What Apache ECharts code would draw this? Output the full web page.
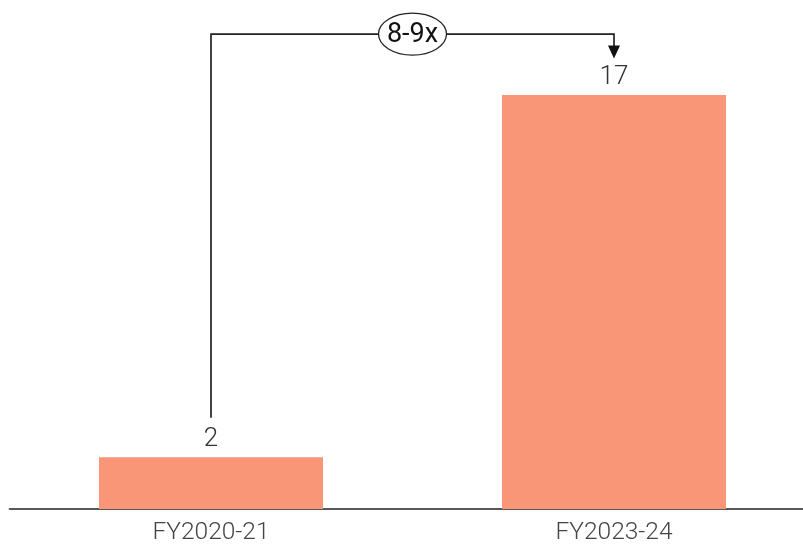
<!DOCTYPE html>
<html>
<head>
<meta charset="utf-8">
<script src="https://cdn.jsdelivr.net/npm/echarts@6/dist/echarts.min.js"></script>
<style>
html,body{margin:0;padding:0;background:#fff;}
#chart{width:803px;height:545px;}
</style>
</head>
<body>
<div id="chart"></div>
<script>
// Data
const categories = ["FY2020-21", "FY2023-24"];
const values = [2.12, 17];
const valueLabels = ["2", "17"];
const growthLabel = "8-9x";
// annotation anchor values (in y-axis units)
const bracketValue = 19.5;
const startValue = 3.75;
const arrowTipValue = 18.5;

const chart = echarts.init(document.getElementById('chart'), null, {renderer: 'canvas'});
const FONT = 'Roboto';
chart.setOption({
  animation: false,
  grid: {left: 9.5, top: 95, width: 806, height: 414, containLabel: false, outerBoundsMode: 'none'},
  xAxis: {
    type: 'category',
    data: categories,
    axisLine: {show: true, lineStyle: {color: '#222', width: 1.6}},
    axisTick: {show: false},
    axisLabel: {margin: 11, color: '#444', fontFamily: FONT, fontWeight: 300, fontSize: 24.5}
  },
  yAxis: {
    type: 'value', min: 0, max: 17, show: false,
    splitLine: {show: false}
  },
  series: [{
    type: 'bar',
    data: values,
    barWidth: 224,
    itemStyle: {color: '#F89677'},
    label: {
      show: true, position: 'top', distance: 5,
      color: '#333', fontFamily: FONT, fontWeight: 300, fontSize: 26,
      formatter: p => valueLabels[p.dataIndex]
    }
  }]
});

function px(cat, val) {
  return chart.convertToPixel({gridIndex: 0}, [cat, val]);
}
const p0 = px(categories[0], startValue);
const pTop0 = px(categories[0], bracketValue);
const pTop1 = px(categories[1], bracketValue);
const pTip = px(categories[1], arrowTipValue);
const midX = (pTop0[0] + pTop1[0]) / 2;
const topY = pTop0[1];

chart.setOption({
  graphic: [
    {
      type: 'polyline',
      shape: {points: [p0, pTop0, pTop1, [pTip[0], pTip[1] - 12]]},
      style: {stroke: '#222', lineWidth: 1.7, fill: null},
      z: 10
    },
    {
      type: 'polygon',
      shape: {points: [[pTip[0] - 6, pTip[1] - 13], [pTip[0] + 6, pTip[1] - 13], [pTip[0], pTip[1]]]},
      style: {fill: '#111', stroke: null},
      z: 10
    },
    {
      type: 'ellipse',
      shape: {cx: midX, cy: topY, rx: 34, ry: 21},
      style: {fill: '#fff', stroke: '#222', lineWidth: 1.3},
      z: 11
    },
    {
      type: 'text',
      x: midX, y: topY + 1,
      style: {text: growthLabel, fill: '#111', font: '400 27px Roboto', align: 'center', verticalAlign: 'middle'},
      z: 12
    }
  ]
});
</script>
</body>
</html>
